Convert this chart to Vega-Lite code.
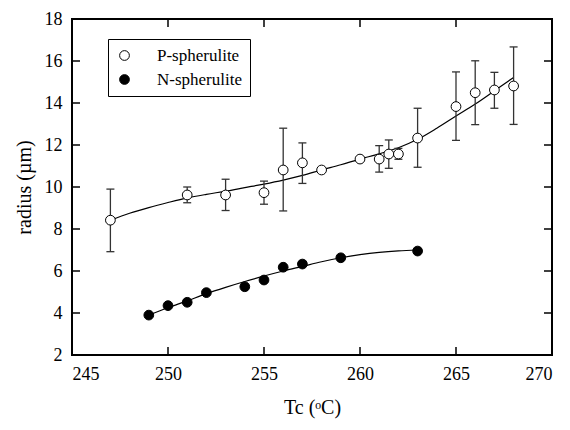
{
  "$schema": "https://vega.github.io/schema/vega-lite/v6.json",
  "width": 480,
  "height": 336,
  "autosize": {"type": "none"},
  "padding": {"left": 72, "top": 19, "right": 18, "bottom": 75},
  "background": "white",
  "config": {
    "font": "Liberation Serif",
    "view": {"stroke": "black", "strokeWidth": 2},
    "axis": {
      "domain": false,
      "grid": false,
      "ticks": false,
      "labelFont": "Liberation Serif",
      "labelFontSize": 18,
      "labelColor": "black",
      "titleFont": "Liberation Serif",
      "titleFontSize": 20,
      "titleFontWeight": "normal",
      "titleColor": "black"
    }
  },
  "datasets": {
    "pts": [
      {"T": 247, "r": 8.42, "lo": 6.92, "hi": 9.9, "series": "P-spherulite"},
      {"T": 251, "r": 9.62, "lo": 9.25, "hi": 10.0, "series": "P-spherulite"},
      {"T": 253, "r": 9.62, "lo": 8.88, "hi": 10.37, "series": "P-spherulite"},
      {"T": 255, "r": 9.73, "lo": 9.18, "hi": 10.28, "series": "P-spherulite"},
      {"T": 256, "r": 10.81, "lo": 8.86, "hi": 12.8, "series": "P-spherulite"},
      {"T": 257, "r": 11.15, "lo": 10.17, "hi": 12.1, "series": "P-spherulite"},
      {"T": 258, "r": 10.81, "lo": null, "hi": null, "series": "P-spherulite"},
      {"T": 260, "r": 11.33, "lo": null, "hi": null, "series": "P-spherulite"},
      {"T": 261, "r": 11.33, "lo": 10.71, "hi": 11.97, "series": "P-spherulite"},
      {"T": 261.5, "r": 11.57, "lo": 10.89, "hi": 12.24, "series": "P-spherulite"},
      {"T": 262, "r": 11.57, "lo": 11.32, "hi": 11.84, "series": "P-spherulite"},
      {"T": 263, "r": 12.33, "lo": 10.94, "hi": 13.75, "series": "P-spherulite"},
      {"T": 265, "r": 13.83, "lo": 12.22, "hi": 15.48, "series": "P-spherulite"},
      {"T": 266, "r": 14.49, "lo": 12.97, "hi": 16.01, "series": "P-spherulite"},
      {"T": 267, "r": 14.62, "lo": 13.75, "hi": 15.46, "series": "P-spherulite"},
      {"T": 268, "r": 14.81, "lo": 12.98, "hi": 16.67, "series": "P-spherulite"},
      {"T": 249, "r": 3.9, "lo": null, "hi": null, "series": "N-spherulite"},
      {"T": 250, "r": 4.35, "lo": null, "hi": null, "series": "N-spherulite"},
      {"T": 251, "r": 4.51, "lo": null, "hi": null, "series": "N-spherulite"},
      {"T": 252, "r": 4.97, "lo": null, "hi": null, "series": "N-spherulite"},
      {"T": 254, "r": 5.25, "lo": null, "hi": null, "series": "N-spherulite"},
      {"T": 255, "r": 5.57, "lo": null, "hi": null, "series": "N-spherulite"},
      {"T": 256, "r": 6.18, "lo": null, "hi": null, "series": "N-spherulite"},
      {"T": 257, "r": 6.33, "lo": null, "hi": null, "series": "N-spherulite"},
      {"T": 259, "r": 6.63, "lo": null, "hi": null, "series": "N-spherulite"},
      {"T": 263, "r": 6.95, "lo": null, "hi": null, "series": "N-spherulite"}
    ],
    "fit": [
      {"T": 247, "y": 8.42, "curve": "P"},
      {"T": 248, "y": 8.75, "curve": "P"},
      {"T": 249, "y": 9.02, "curve": "P"},
      {"T": 250, "y": 9.26, "curve": "P"},
      {"T": 251, "y": 9.48, "curve": "P"},
      {"T": 252, "y": 9.65, "curve": "P"},
      {"T": 253, "y": 9.8, "curve": "P"},
      {"T": 254, "y": 9.97, "curve": "P"},
      {"T": 255, "y": 10.14, "curve": "P"},
      {"T": 256, "y": 10.33, "curve": "P"},
      {"T": 257, "y": 10.55, "curve": "P"},
      {"T": 258, "y": 10.81, "curve": "P"},
      {"T": 259, "y": 11.06, "curve": "P"},
      {"T": 260, "y": 11.33, "curve": "P"},
      {"T": 261, "y": 11.58, "curve": "P"},
      {"T": 262, "y": 11.87, "curve": "P"},
      {"T": 263, "y": 12.27, "curve": "P"},
      {"T": 264, "y": 12.8, "curve": "P"},
      {"T": 265, "y": 13.38, "curve": "P"},
      {"T": 266, "y": 13.95, "curve": "P"},
      {"T": 267, "y": 14.58, "curve": "P"},
      {"T": 268, "y": 15.22, "curve": "P"},
      {"T": 249, "y": 3.9, "curve": "N"},
      {"T": 250, "y": 4.25, "curve": "N"},
      {"T": 251, "y": 4.58, "curve": "N"},
      {"T": 252, "y": 4.92, "curve": "N"},
      {"T": 253, "y": 5.22, "curve": "N"},
      {"T": 254, "y": 5.5, "curve": "N"},
      {"T": 255, "y": 5.76, "curve": "N"},
      {"T": 256, "y": 6.0, "curve": "N"},
      {"T": 257, "y": 6.22, "curve": "N"},
      {"T": 258, "y": 6.44, "curve": "N"},
      {"T": 259, "y": 6.63, "curve": "N"},
      {"T": 260, "y": 6.78, "curve": "N"},
      {"T": 261, "y": 6.89, "curve": "N"},
      {"T": 262, "y": 6.96, "curve": "N"},
      {"T": 263, "y": 7.0, "curve": "N"}
    ],
    "xt": [{"T": 250}, {"T": 255}, {"T": 260}, {"T": 265}],
    "yt": [{"R": 4}, {"R": 6}, {"R": 8}, {"R": 10}, {"R": 12}, {"R": 14}, {"R": 16}]
  },
  "layer": [
    {
      "data": {"name": "fit"},
      "mark": {"type": "line", "interpolate": "monotone", "color": "black", "strokeWidth": 1.2},
      "encoding": {
        "x": {
          "field": "T", "type": "quantitative",
          "scale": {"domain": [245, 270], "nice": false, "zero": false},
          "axis": {"values": [245, 250, 255, 260, 265, 270], "title": "Tc (ᵒC)", "labelPadding": 10, "titlePadding": 14}
        },
        "y": {
          "field": "y", "type": "quantitative",
          "scale": {"domain": [2, 18], "nice": false, "zero": false},
          "axis": {"values": [2, 4, 6, 8, 10, 12, 14, 16, 18], "title": "radius (µm)", "labelPadding": 10, "titlePadding": 10}
        },
        "detail": {"field": "curve"}
      }
    },
    {
      "data": {"name": "xt"},
      "mark": {"type": "tick", "orient": "vertical", "color": "black", "size": 16, "thickness": 1.5, "opacity": 1, "clip": true},
      "encoding": {
        "x": {"field": "T", "type": "quantitative"},
        "y": {"datum": 2, "type": "quantitative"}
      }
    },
    {
      "data": {"name": "xt"},
      "mark": {"type": "tick", "orient": "vertical", "color": "black", "size": 16, "thickness": 1.5, "opacity": 1, "clip": true},
      "encoding": {
        "x": {"field": "T", "type": "quantitative"},
        "y": {"datum": 18, "type": "quantitative"}
      }
    },
    {
      "data": {"name": "yt"},
      "mark": {"type": "tick", "orient": "horizontal", "color": "black", "size": 16, "thickness": 1.5, "opacity": 1, "clip": true},
      "encoding": {
        "x": {"datum": 245, "type": "quantitative"},
        "y": {"field": "R", "type": "quantitative"}
      }
    },
    {
      "data": {"name": "yt"},
      "mark": {"type": "tick", "orient": "horizontal", "color": "black", "size": 16, "thickness": 1.5, "opacity": 1, "clip": true},
      "encoding": {
        "x": {"datum": 270, "type": "quantitative"},
        "y": {"field": "R", "type": "quantitative"}
      }
    },
    {
      "data": {"name": "pts"},
      "transform": [{"filter": "datum.lo != null"}],
      "mark": {"type": "rule", "color": "#333", "strokeWidth": 1.3},
      "encoding": {
        "x": {"field": "T", "type": "quantitative"},
        "y": {"field": "lo", "type": "quantitative"},
        "y2": {"field": "hi"}
      }
    },
    {
      "data": {"name": "pts"},
      "transform": [
        {"filter": "datum.lo != null"},
        {"fold": ["lo", "hi"], "as": ["k", "v"]}
      ],
      "mark": {"type": "tick", "orient": "horizontal", "color": "#333", "size": 8, "thickness": 1.3, "opacity": 1},
      "encoding": {
        "x": {"field": "T", "type": "quantitative"},
        "y": {"field": "v", "type": "quantitative"}
      }
    },
    {
      "data": {"name": "pts"},
      "mark": {"type": "point", "shape": "circle", "filled": true, "size": 95, "stroke": "black", "strokeWidth": 1, "opacity": 1},
      "encoding": {
        "x": {"field": "T", "type": "quantitative"},
        "y": {"field": "r", "type": "quantitative"},
        "fill": {
          "field": "series", "type": "nominal",
          "scale": {"domain": ["P-spherulite", "N-spherulite"], "range": ["white", "black"]},
          "legend": {
            "title": null,
            "orient": "none",
            "legendX": 36,
            "legendY": 20,
            "strokeColor": "black",
            "padding": 8,
            "symbolType": "circle",
            "symbolSize": 95,
            "symbolStrokeColor": "black",
            "symbolStrokeWidth": 1,
            "symbolOpacity": 1,
            "labelFont": "Liberation Serif",
            "labelFontSize": 17,
            "labelColor": "black",
            "labelOffset": 24,
            "rowPadding": 6
          }
        }
      }
    }
  ]
}
